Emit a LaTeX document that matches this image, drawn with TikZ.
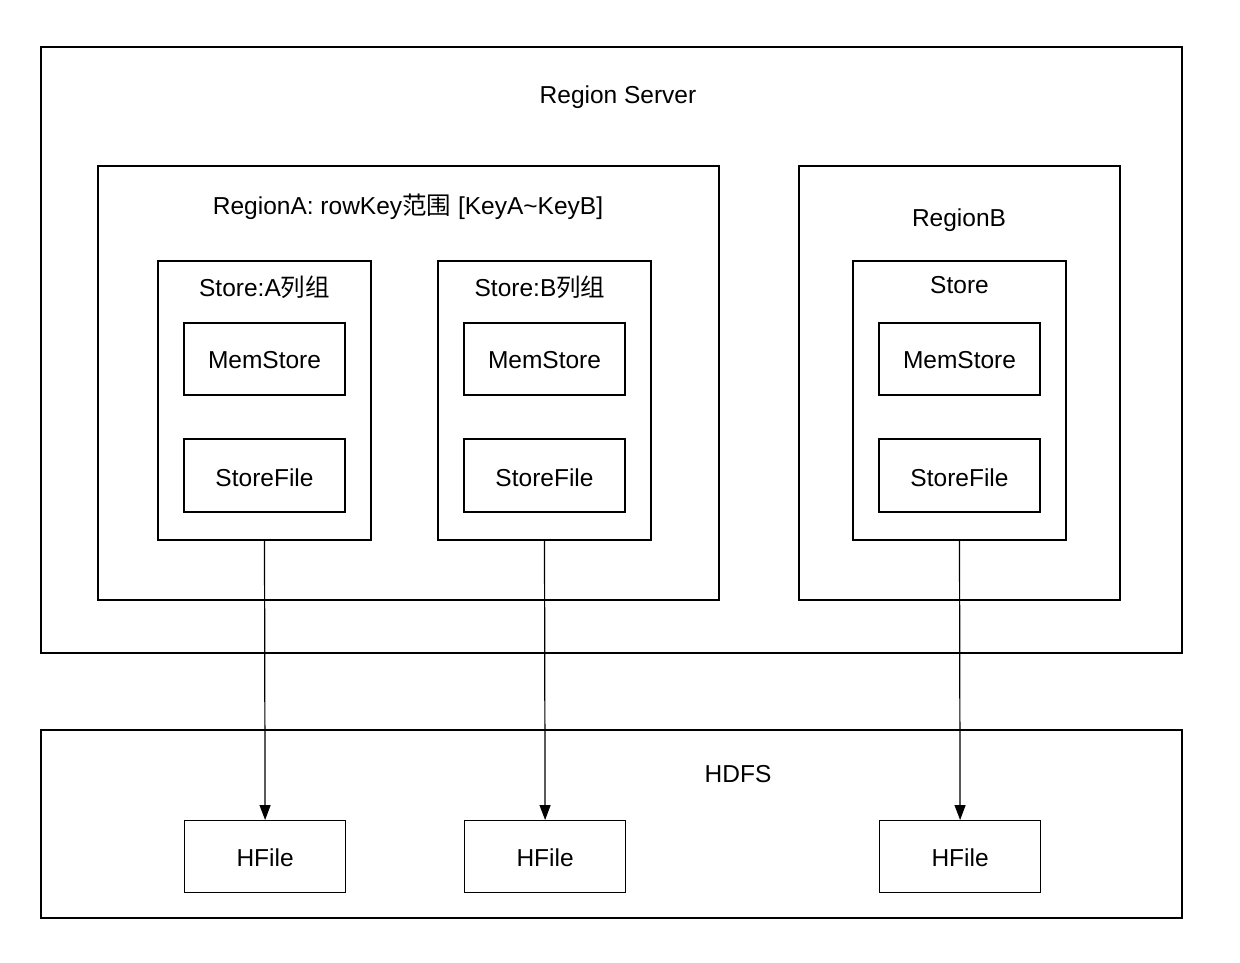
\documentclass[tikz,border=0pt]{standalone}
\usepackage{fontspec}
\setmainfont{Liberation Sans}
\newfontfamily\cjk{Noto Sans CJK SC}
\usetikzlibrary{arrows.meta}
\tikzset{
  box/.style={draw, line width=1.2pt},
  lbl/.style={font=\fontsize{24.5}{28}\selectfont, inner sep=0pt},
  conn/.style={line width=1.2pt, -{Triangle[length=15pt,width=11pt]}}
}
\begin{document}
\begin{tikzpicture}[x=1pt,y=-1pt]
\useasboundingbox[fill=white] (0,0) rectangle (1240,962);
% outer
\draw[box] (41,47) rectangle (1182,653);
\node[lbl] (rs) at (618,97) {Region Server};
\draw[box] (98,166) rectangle (719,600);
\node[lbl] (ra) at (408,207) {RegionA: rowKey{\cjk 范围} [KeyA\textasciitilde KeyB]};
\draw[box] (799,166) rectangle (1120,600);
\node[lbl] (rb) at (959,220) {RegionB};
% stores
\draw[box] (158,261) rectangle (371,540);
\coordinate (sa) at (264.5,540);
\node[lbl] (sal) at (264.5,287) {Store:A{\cjk 列组}};
\draw[box] (438,261) rectangle (651,540);
\coordinate (sb) at (544.5,540);
\node[lbl] (sbl) at (540,287) {Store:B{\cjk 列组}};
\draw[box] (853,261) rectangle (1066,540);
\coordinate (sc) at (959.5,540);
\node[lbl] (scl) at (959.5,285) {Store};
% mem/store files
\foreach \x/\n in {184/a,464/b,879/c}{
  \draw[box] (\x,323) rectangle (\x+161,395);
  \node[lbl] (mem\n) at (\x+80.5,360) {MemStore};
  \draw[box] (\x,439) rectangle (\x+161,512);
  \node[lbl] (sf\n) at (\x+80.5,478) {StoreFile};
}
% HDFS
\draw[box] (41,730) rectangle (1182,918);
\node[lbl] (hdfs) at (738,774) {HDFS};
\foreach \x/\n in {184/a,464/b,879/c}{
  \node[box, minimum width=161pt, minimum height=72pt, anchor=north west, inner sep=0pt] (hf\n) at (\x,820) {};
  \node[lbl] at ([yshift=-1pt]hf\n.center) {HFile};
}
\draw[conn] (sa) -- (hfa.north);
\draw[conn] (sb) -- (hfb.north);
\draw[conn] (sc) -- (hfc.north);
\end{tikzpicture}
\end{document}
